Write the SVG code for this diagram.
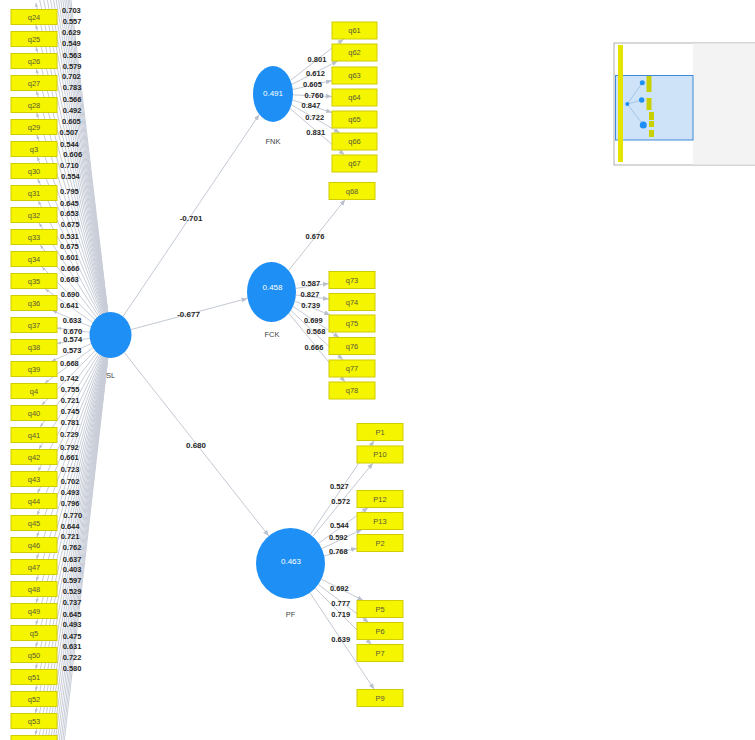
<svg xmlns="http://www.w3.org/2000/svg" width="755" height="740" viewBox="0 0 755 740">
<style>
text{font-family:"Liberation Sans",Arial,sans-serif;dominant-baseline:central}
.ib rect{fill:#f5f500;stroke:#cfcc00;stroke-width:1}
.ib text{font-size:7.5px;fill:#5a5a3a;text-anchor:middle}
.lv ellipse{fill:#1e8ff5}
.lv .v{font-size:8px;fill:#fff;text-anchor:middle}
.lv .n{font-size:7.5px;fill:#444;text-anchor:middle}
.c{stroke:#c3c9d4;stroke-width:1;fill:none;marker-end:url(#a)}
.f{stroke:#c8cdd8;stroke-width:1;fill:none;marker-end:url(#s)}
.w{font-size:7.5px;font-weight:bold;fill:#262626}
.m{text-anchor:middle}
.p{font-size:8px;font-weight:bold;fill:#262626;text-anchor:middle}
</style>
<defs>
<marker id="a" viewBox="0 0 10 10" refX="10" refY="5" markerWidth="6" markerHeight="6" markerUnits="userSpaceOnUse" orient="auto"><path d="M0,1L10,5L0,9z" fill="#b9c0cc"/></marker>
<marker id="s" viewBox="0 0 10 10" refX="10" refY="5" markerWidth="4" markerHeight="4" markerUnits="userSpaceOnUse" orient="auto"><path d="M0,1L10,5L0,9z" fill="#b9c0cc"/></marker>
</defs>
<rect width="755" height="740" fill="#fff"/>
<g id="connectors">
<line class="f" x1="110.5" y1="335" x2="34.94" y2="-305"/>
<line class="f" x1="110.5" y1="335" x2="34.97" y2="-283"/>
<line class="f" x1="110.5" y1="335" x2="35.01" y2="-261"/>
<line class="f" x1="110.5" y1="335" x2="35.04" y2="-239"/>
<line class="f" x1="110.5" y1="335" x2="35.09" y2="-217"/>
<line class="f" x1="110.5" y1="335" x2="35.13" y2="-195"/>
<line class="f" x1="110.5" y1="335" x2="35.18" y2="-173"/>
<line class="f" x1="110.5" y1="335" x2="35.23" y2="-151"/>
<line class="f" x1="110.5" y1="335" x2="35.29" y2="-129"/>
<line class="f" x1="110.5" y1="335" x2="35.35" y2="-107"/>
<line class="f" x1="110.5" y1="335" x2="35.42" y2="-85"/>
<line class="f" x1="110.5" y1="335" x2="35.5" y2="-63"/>
<line class="f" x1="110.5" y1="335" x2="35.58" y2="-41"/>
<line class="f" x1="110.5" y1="335" x2="35.68" y2="-19"/>
<line class="f" x1="110.5" y1="335" x2="35.79" y2="3"/>
<line class="f" x1="110.5" y1="335" x2="35.91" y2="25"/>
<line class="f" x1="110.5" y1="335" x2="36.05" y2="47"/>
<line class="f" x1="110.5" y1="335" x2="36.22" y2="69"/>
<line class="f" x1="110.5" y1="335" x2="36.41" y2="91"/>
<line class="f" x1="110.5" y1="335" x2="36.64" y2="113"/>
<line class="f" x1="110.5" y1="335" x2="36.92" y2="135"/>
<line class="f" x1="110.5" y1="335" x2="37.27" y2="157"/>
<line class="f" x1="110.5" y1="335" x2="37.71" y2="179"/>
<line class="f" x1="110.5" y1="335" x2="38.28" y2="201"/>
<line class="f" x1="110.5" y1="335" x2="39.07" y2="223"/>
<line class="f" x1="110.5" y1="335" x2="40.2" y2="245"/>
<line class="f" x1="110.5" y1="335" x2="42" y2="267"/>
<line class="f" x1="110.5" y1="335" x2="45.26" y2="289"/>
<line class="f" x1="110.5" y1="335" x2="53" y2="311"/>
<line class="f" x1="110.5" y1="335" x2="57" y2="328"/>
<line class="f" x1="110.5" y1="335" x2="57" y2="343.4"/>
<line class="f" x1="110.5" y1="335" x2="51.9" y2="361"/>
<line class="f" x1="110.5" y1="335" x2="44.86" y2="383"/>
<line class="f" x1="110.5" y1="335" x2="41.8" y2="405"/>
<line class="f" x1="110.5" y1="335" x2="40.08" y2="427"/>
<line class="f" x1="110.5" y1="335" x2="38.98" y2="449"/>
<line class="f" x1="110.5" y1="335" x2="38.22" y2="471"/>
<line class="f" x1="110.5" y1="335" x2="37.66" y2="493"/>
<line class="f" x1="110.5" y1="335" x2="37.23" y2="515"/>
<line class="f" x1="110.5" y1="335" x2="36.9" y2="537"/>
<line class="f" x1="110.5" y1="335" x2="36.62" y2="559"/>
<line class="f" x1="110.5" y1="335" x2="36.39" y2="581"/>
<line class="f" x1="110.5" y1="335" x2="36.2" y2="603"/>
<line class="f" x1="110.5" y1="335" x2="36.04" y2="625"/>
<line class="f" x1="110.5" y1="335" x2="35.9" y2="647"/>
<line class="f" x1="110.5" y1="335" x2="35.78" y2="669"/>
<line class="f" x1="110.5" y1="335" x2="35.67" y2="691"/>
<line class="f" x1="110.5" y1="335" x2="35.58" y2="713"/>
<line class="f" x1="110.5" y1="335" x2="35.49" y2="735"/>
<line class="f" x1="110.5" y1="335" x2="35.41" y2="757"/>
<line class="f" x1="110.5" y1="335" x2="35.35" y2="779"/>
<line class="f" x1="110.5" y1="335" x2="35.28" y2="801"/>
<line class="f" x1="110.5" y1="335" x2="35.23" y2="823"/>
<line class="f" x1="110.5" y1="335" x2="35.17" y2="845"/>
<line class="f" x1="110.5" y1="335" x2="35.13" y2="867"/>
<line class="f" x1="110.5" y1="335" x2="35.08" y2="889"/>
<line class="f" x1="110.5" y1="335" x2="35.04" y2="911"/>
<line class="f" x1="110.5" y1="335" x2="35" y2="933"/>
<line class="f" x1="110.5" y1="335" x2="34.97" y2="955"/>
<line class="f" x1="110.5" y1="335" x2="34.94" y2="977"/>
<line class="f" x1="110.5" y1="335" x2="34.9" y2="999"/>
<line class="c" x1="123" y1="316.5" x2="259.3" y2="114.4"/>
<line class="c" x1="130.9" y1="329.6" x2="247.5" y2="298.4"/>
<line class="c" x1="124.2" y1="352.4" x2="268.8" y2="535.9"/>
<line class="c" x1="290.5" y1="80.4" x2="343.6" y2="39"/>
<line class="c" x1="291.8" y1="84.4" x2="337.8" y2="61"/>
<line class="c" x1="292.7" y1="89.5" x2="332" y2="80.6"/>
<line class="c" x1="293" y1="94.9" x2="332" y2="96.5"/>
<line class="c" x1="292.5" y1="100.1" x2="332" y2="112.5"/>
<line class="c" x1="291.5" y1="104.8" x2="339.9" y2="133"/>
<line class="c" x1="290" y1="108.5" x2="344.5" y2="155"/>
<line class="c" x1="288.6" y1="270.5" x2="345.2" y2="199.5"/>
<line class="c" x1="295.8" y1="288.4" x2="329" y2="283.4"/>
<line class="c" x1="295.9" y1="295" x2="329" y2="299.1"/>
<line class="c" x1="294.8" y1="301.1" x2="330.3" y2="315"/>
<line class="c" x1="293" y1="306.4" x2="339.3" y2="337.5"/>
<line class="c" x1="290.9" y1="310.4" x2="343.1" y2="360"/>
<line class="c" x1="288.8" y1="313.2" x2="345.1" y2="382"/>
<line class="c" x1="310.3" y1="534.4" x2="374.2" y2="440.5"/>
<line class="c" x1="312.8" y1="536.4" x2="373" y2="463"/>
<line class="c" x1="318.8" y1="543.1" x2="368.2" y2="507.5"/>
<line class="c" x1="321.8" y1="548.6" x2="362.1" y2="529.5"/>
<line class="c" x1="324.2" y1="555.8" x2="357" y2="548.3"/>
<line class="c" x1="321.4" y1="579.2" x2="363.3" y2="600.5"/>
<line class="c" x1="318.3" y1="584.5" x2="368.7" y2="622.5"/>
<line class="c" x1="315.2" y1="588.2" x2="371.5" y2="644.5"/>
<line class="c" x1="310" y1="592.8" x2="374.3" y2="689.5"/>
</g>
<g id="left-indicators" class="ib">
<g id="q24"><rect x="11" y="9.5" width="46" height="15"/><text x="34" y="17">q24</text></g>
<g id="q25"><rect x="11" y="31.5" width="46" height="15"/><text x="34" y="39">q25</text></g>
<g id="q26"><rect x="11" y="53.5" width="46" height="15"/><text x="34" y="61">q26</text></g>
<g id="q27"><rect x="11" y="75.5" width="46" height="15"/><text x="34" y="83">q27</text></g>
<g id="q28"><rect x="11" y="97.5" width="46" height="15"/><text x="34" y="105">q28</text></g>
<g id="q29"><rect x="11" y="119.5" width="46" height="15"/><text x="34" y="127">q29</text></g>
<g id="q3"><rect x="11" y="141.5" width="46" height="15"/><text x="34" y="149">q3</text></g>
<g id="q30"><rect x="11" y="163.5" width="46" height="15"/><text x="34" y="171">q30</text></g>
<g id="q31"><rect x="11" y="185.5" width="46" height="15"/><text x="34" y="193">q31</text></g>
<g id="q32"><rect x="11" y="207.5" width="46" height="15"/><text x="34" y="215">q32</text></g>
<g id="q33"><rect x="11" y="229.5" width="46" height="15"/><text x="34" y="237">q33</text></g>
<g id="q34"><rect x="11" y="251.5" width="46" height="15"/><text x="34" y="259">q34</text></g>
<g id="q35"><rect x="11" y="273.5" width="46" height="15"/><text x="34" y="281">q35</text></g>
<g id="q36"><rect x="11" y="295.5" width="46" height="15"/><text x="34" y="303">q36</text></g>
<g id="q37"><rect x="11" y="317.5" width="46" height="15"/><text x="34" y="325">q37</text></g>
<g id="q38"><rect x="11" y="339.5" width="46" height="15"/><text x="34" y="347">q38</text></g>
<g id="q39"><rect x="11" y="361.5" width="46" height="15"/><text x="34" y="369">q39</text></g>
<g id="q4"><rect x="11" y="383.5" width="46" height="15"/><text x="34" y="391">q4</text></g>
<g id="q40"><rect x="11" y="405.5" width="46" height="15"/><text x="34" y="413">q40</text></g>
<g id="q41"><rect x="11" y="427.5" width="46" height="15"/><text x="34" y="435">q41</text></g>
<g id="q42"><rect x="11" y="449.5" width="46" height="15"/><text x="34" y="457">q42</text></g>
<g id="q43"><rect x="11" y="471.5" width="46" height="15"/><text x="34" y="479">q43</text></g>
<g id="q44"><rect x="11" y="493.5" width="46" height="15"/><text x="34" y="501">q44</text></g>
<g id="q45"><rect x="11" y="515.5" width="46" height="15"/><text x="34" y="523">q45</text></g>
<g id="q46"><rect x="11" y="537.5" width="46" height="15"/><text x="34" y="545">q46</text></g>
<g id="q47"><rect x="11" y="559.5" width="46" height="15"/><text x="34" y="567">q47</text></g>
<g id="q48"><rect x="11" y="581.5" width="46" height="15"/><text x="34" y="589">q48</text></g>
<g id="q49"><rect x="11" y="603.5" width="46" height="15"/><text x="34" y="611">q49</text></g>
<g id="q5"><rect x="11" y="625.5" width="46" height="15"/><text x="34" y="633">q5</text></g>
<g id="q50"><rect x="11" y="647.5" width="46" height="15"/><text x="34" y="655">q50</text></g>
<g id="q51"><rect x="11" y="669.5" width="46" height="15"/><text x="34" y="677">q51</text></g>
<g id="q52"><rect x="11" y="691.5" width="46" height="15"/><text x="34" y="699">q52</text></g>
<g id="q53"><rect x="11" y="713.5" width="46" height="15"/><text x="34" y="721">q53</text></g>
<g id="q-next"><rect x="11" y="735.5" width="46" height="15"/></g>
</g>
<g id="left-loadings" class="w">
<text x="62" y="10">0.703</text>
<text x="62.7" y="21.7">0.557</text>
<text x="62" y="32.3">0.629</text>
<text x="62" y="43.3">0.549</text>
<text x="62.7" y="55">0.563</text>
<text x="62.7" y="66">0.579</text>
<text x="62" y="76.7">0.702</text>
<text x="62.7" y="87.3">0.783</text>
<text x="62.7" y="99.3">0.566</text>
<text x="62.7" y="110">0.492</text>
<text x="62" y="121.7">0.605</text>
<text x="59.5" y="132.7">0.507</text>
<text x="60" y="144">0.544</text>
<text x="63.3" y="154.5">0.606</text>
<text x="60" y="165">0.710</text>
<text x="61" y="176">0.554</text>
<text x="60" y="191.7">0.795</text>
<text x="60" y="203">0.645</text>
<text x="60" y="213.3">0.653</text>
<text x="60.7" y="224">0.675</text>
<text x="60" y="236">0.531</text>
<text x="60" y="246.7">0.675</text>
<text x="60" y="257.3">0.601</text>
<text x="60.7" y="268.3">0.666</text>
<text x="60" y="279.3">0.663</text>
<text x="60.7" y="294">0.690</text>
<text x="60" y="305">0.641</text>
<text x="62.7" y="320">0.633</text>
<text x="63.3" y="331.3">0.670</text>
<text x="63.3" y="339.3">0.574</text>
<text x="62.7" y="350.7">0.573</text>
<text x="60" y="363.5">0.668</text>
<text x="60" y="378.3">0.742</text>
<text x="60.7" y="389.3">0.755</text>
<text x="60.7" y="400">0.721</text>
<text x="60.7" y="411">0.745</text>
<text x="60.7" y="422.3">0.781</text>
<text x="60" y="434">0.729</text>
<text x="60" y="447.3">0.792</text>
<text x="60" y="457.7">0.661</text>
<text x="60.7" y="469.3">0.723</text>
<text x="60.7" y="481">0.702</text>
<text x="60.7" y="492">0.493</text>
<text x="60.7" y="503.3">0.796</text>
<text x="63.3" y="515">0.770</text>
<text x="60.7" y="526">0.644</text>
<text x="60.7" y="536.7">0.721</text>
<text x="62.7" y="547">0.762</text>
<text x="62.7" y="559.3">0.637</text>
<text x="62.7" y="569.3">0.403</text>
<text x="62.7" y="580">0.597</text>
<text x="62.7" y="591">0.529</text>
<text x="62.7" y="602.7">0.737</text>
<text x="62.7" y="614">0.645</text>
<text x="62.7" y="624.3">0.493</text>
<text x="62.7" y="636">0.475</text>
<text x="62.7" y="646.7">0.631</text>
<text x="62.7" y="657.3">0.722</text>
<text x="62.7" y="668.3">0.580</text>
</g>
<g id="right-indicators" class="ib">
<g id="q61"><rect x="332" y="22" width="45" height="17"/><text x="354.5" y="30.5">q61</text></g>
<g id="q62"><rect x="332" y="44" width="45" height="17"/><text x="354.5" y="52.5">q62</text></g>
<g id="q63"><rect x="332" y="67" width="45" height="17"/><text x="354.5" y="75.5">q63</text></g>
<g id="q64"><rect x="332" y="89" width="45" height="17"/><text x="354.5" y="97.5">q64</text></g>
<g id="q65"><rect x="332" y="111" width="45" height="17"/><text x="354.5" y="119.5">q65</text></g>
<g id="q66"><rect x="332" y="133" width="45" height="17"/><text x="354.5" y="141.5">q66</text></g>
<g id="q67"><rect x="332" y="155" width="45" height="17"/><text x="354.5" y="163.5">q67</text></g>
<g id="q68"><rect x="329" y="182.5" width="46" height="17"/><text x="352" y="191">q68</text></g>
<g id="q73"><rect x="329" y="271.5" width="46" height="17"/><text x="352" y="280">q73</text></g>
<g id="q74"><rect x="329" y="293.5" width="46" height="17"/><text x="352" y="302">q74</text></g>
<g id="q75"><rect x="329" y="315" width="46" height="17"/><text x="352" y="323.5">q75</text></g>
<g id="q76"><rect x="329" y="337.5" width="46" height="17"/><text x="352" y="346">q76</text></g>
<g id="q77"><rect x="329" y="360" width="46" height="17"/><text x="352" y="368.5">q77</text></g>
<g id="q78"><rect x="329" y="382" width="46" height="17"/><text x="352" y="390.5">q78</text></g>
<g id="P1"><rect x="357" y="423.5" width="46" height="17"/><text x="380" y="432">P1</text></g>
<g id="P10"><rect x="357" y="446" width="46" height="17"/><text x="380" y="454.5">P10</text></g>
<g id="P12"><rect x="357" y="490.5" width="46" height="17"/><text x="380" y="499">P12</text></g>
<g id="P13"><rect x="357" y="512.5" width="46" height="17"/><text x="380" y="521">P13</text></g>
<g id="P2"><rect x="357" y="534.5" width="46" height="17"/><text x="380" y="543">P2</text></g>
<g id="P5"><rect x="357" y="600.5" width="46" height="17"/><text x="380" y="609">P5</text></g>
<g id="P6"><rect x="357" y="622.5" width="46" height="17"/><text x="380" y="631">P6</text></g>
<g id="P7"><rect x="357" y="644.5" width="46" height="17"/><text x="380" y="653">P7</text></g>
<g id="P9"><rect x="357" y="689.5" width="46" height="17"/><text x="380" y="698">P9</text></g>
</g>
<g id="SL" class="lv"><ellipse cx="110.5" cy="335" rx="21" ry="23"/><text class="n" x="110.5" y="375">SL</text></g>
<g id="FNK" class="lv"><ellipse cx="273" cy="94" rx="20" ry="28"/><text class="v" x="273" y="93">0.491</text><text class="n" x="273" y="141">FNK</text></g>
<g id="FCK" class="lv"><ellipse cx="271.5" cy="292" rx="24.5" ry="30"/><text class="v" x="272.5" y="287">0.458</text><text class="n" x="272" y="334">FCK</text></g>
<g id="PF" class="lv"><ellipse cx="290.5" cy="563.5" rx="34.5" ry="35.5"/><text class="v" x="291" y="561">0.463</text><text class="n" x="290.5" y="614">PF</text></g>
<g id="path-labels">
<text class="p" x="191" y="218">-0.701</text>
<text class="p" x="188.5" y="314">-0.677</text>
<text class="p" x="196" y="445.5">0.680</text>
</g>
<g id="right-loadings" class="w m">
<text x="317" y="59">0.801</text>
<text x="315.5" y="73.5">0.612</text>
<text x="312.5" y="84">0.605</text>
<text x="314" y="95">0.760</text>
<text x="311" y="105.7">0.847</text>
<text x="314.7" y="117.7">0.722</text>
<text x="315.7" y="132.3">0.831</text>
<text x="315" y="236.7">0.676</text>
<text x="310.7" y="283.3">0.587</text>
<text x="310" y="294.3">0.827</text>
<text x="310.7" y="305.7">0.739</text>
<text x="313.3" y="320.7">0.699</text>
<text x="316" y="331">0.568</text>
<text x="314" y="347.7">0.666</text>
<text x="339.3" y="486.7">0.527</text>
<text x="340.7" y="501">0.572</text>
<text x="339.3" y="525">0.544</text>
<text x="338.3" y="537.7">0.592</text>
<text x="338.3" y="551.7">0.768</text>
<text x="339.3" y="588.3">0.692</text>
<text x="340.7" y="603.3">0.777</text>
<text x="340.7" y="614.3">0.719</text>
<text x="340.7" y="639">0.639</text>
</g>
<g id="overview">
<rect x="614" y="43" width="150" height="122" fill="#ffffff" stroke="#b0b0b0"/>
<rect x="693" y="43.5" width="62" height="121" fill="#f3f3f3"/>
<rect x="615.5" y="75.5" width="77.5" height="64.5" fill="#cfe3f8" stroke="#3f8ad8"/>
<rect x="618" y="45" width="5" height="117" fill="#e4e400"/>
<g stroke="#8fb4e0" stroke-width="0.7"><line x1="627.3" y1="104" x2="642.3" y2="82.7"/><line x1="627.3" y1="104" x2="641.7" y2="100"/><line x1="627.3" y1="104" x2="643.3" y2="125"/></g>
<g fill="#c8d000"><rect x="646.5" y="76" width="5" height="16"/><rect x="646.5" y="98" width="5" height="12"/><rect x="649" y="112" width="5" height="8"/><rect x="649" y="121" width="5" height="6"/><rect x="649" y="130" width="5" height="7"/></g>
<g fill="#1e8ff5"><circle cx="627.3" cy="104" r="2"/><circle cx="642.3" cy="82.7" r="2.5"/><circle cx="641.7" cy="100" r="2.7"/><circle cx="643.3" cy="125" r="3.5"/></g>
</g>
</svg>
